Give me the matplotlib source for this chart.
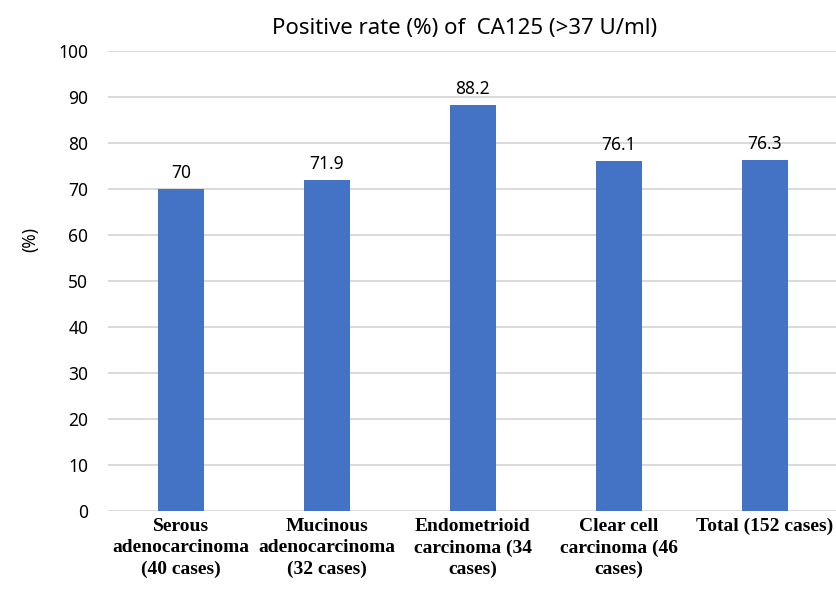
import matplotlib
matplotlib.use("Agg")
import matplotlib.pyplot as plt

# Dữ liệu biểu đồ
categories = [
    "Serous\nadenocarcinoma\n(40 cases)",
    "Mucinous\nadenocarcinoma\n(32 cases)",
    "Endometrioid\ncarcinoma (34\ncases)",
    "Clear cell\ncarcinoma (46\ncases)",
    "Total (152 cases)",
]
positive_rate = [70, 71.9, 88.2, 76.1, 76.3]
rate_labels = ["70", "71.9", "88.2", "76.1", "76.3"]
y_ticks = [0, 10, 20, 30, 40, 50, 60, 70, 80, 90, 100]


def main():
    plt.rcParams['font.family'] = ['Noto Sans', 'DejaVu Sans']
    fig = plt.figure(figsize=(8.36, 5.94), dpi=100)
    ax = fig.add_axes([0.129, 0.1397, 0.873, 0.7744])

    x = list(range(len(categories)))
    bars = ax.bar(x, positive_rate, width=0.315, color='#4472C4', zorder=3)

    # Nhãn giá trị trên cột
    for b, lab in zip(bars, rate_labels):
        ax.annotate(lab, (b.get_x() + b.get_width() / 2, b.get_height()),
                    xytext=(0, 5), textcoords='offset points',
                    ha='center', va='bottom', fontsize=12.5, color='#000000')

    ax.set_xlim(-0.5, len(categories) - 0.5)
    ax.set_ylim(0, 100)
    ax.set_yticks(y_ticks)
    ax.set_yticklabels([str(t) for t in y_ticks], fontsize=12.5)
    ax.grid(axis='y', color='#D9D9D9', linewidth=1.4, zorder=0)
    ax.set_xticks(x)
    ax.set_xticklabels(categories, family=['Liberation Serif'], fontweight='bold',
                       fontsize=14, linespacing=1.33)
    ax.tick_params(length=0)
    ax.tick_params(axis='x', pad=5)
    ax.tick_params(axis='y', pad=14)
    for s in ax.spines.values():
        s.set_visible(False)

    ax.set_ylabel('(%)', fontsize=12.5, labelpad=14, y=0.59)
    fig.text(0.556, 0.952, 'Positive rate (%) of  CA125 (>37 U/ml)',
             ha='center', va='center', fontsize=16)

    fig.savefig('out.png', dpi=100)


if __name__ == "__main__":
    main()
